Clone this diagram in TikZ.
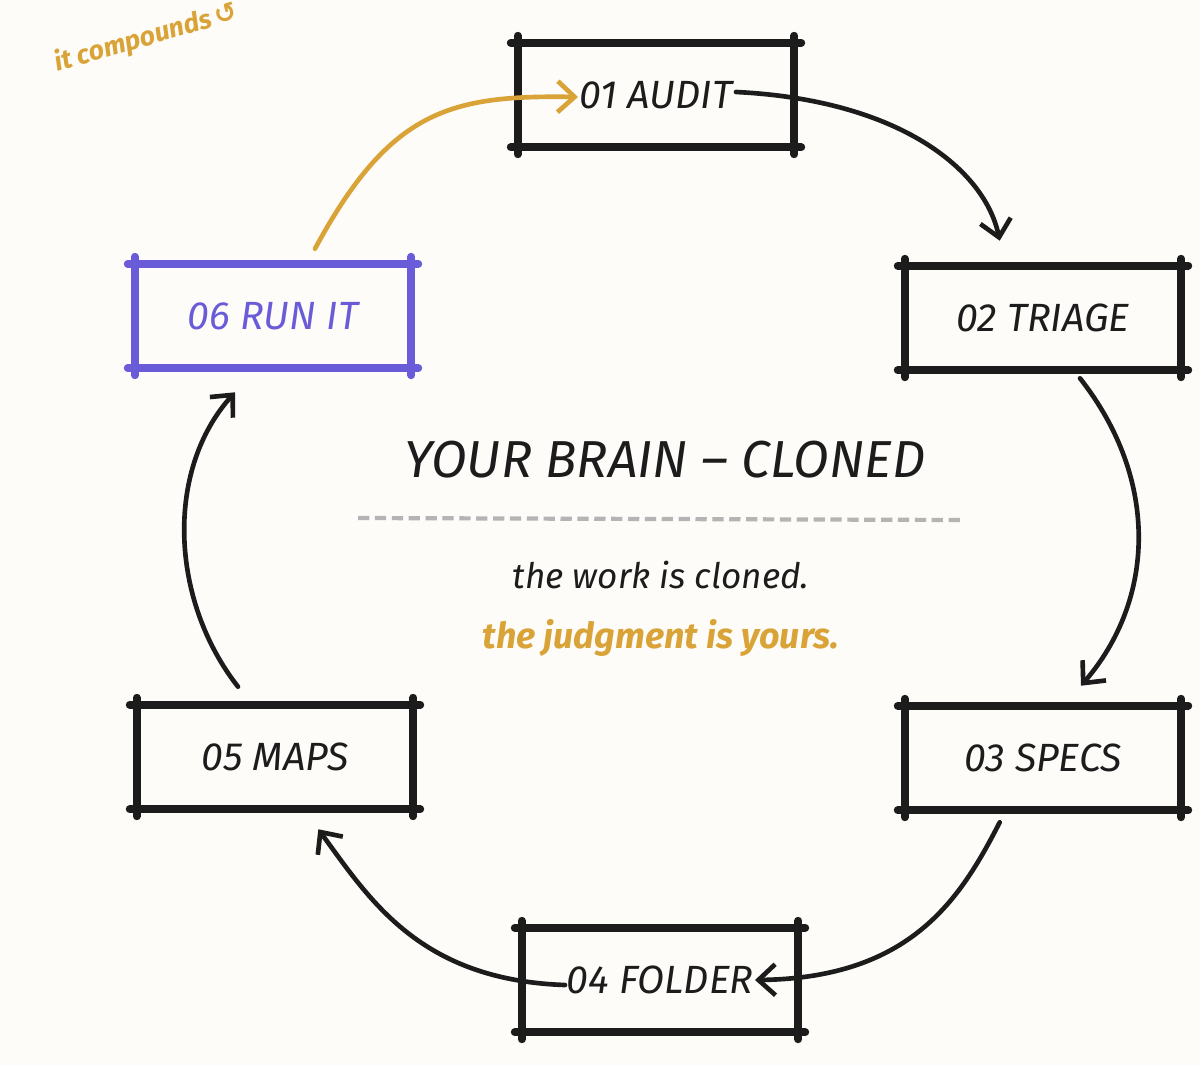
\documentclass[tikz,border=0pt]{standalone}
\usepackage{fontspec}
\setmainfont{Fira Sans}
\newfontfamily\symfont{DejaVu Sans}
\usetikzlibrary{arrows.meta, positioning, calc}

\definecolor{paper}{HTML}{FDFCF8}
\definecolor{ink}{HTML}{1C1C1C}
\definecolor{gold}{HTML}{D9A337}
\definecolor{runpurple}{HTML}{6A5BD8}
\definecolor{rule}{HTML}{B4B4B4}

\begin{document}
\begin{tikzpicture}[
    x=0.025cm, y=-0.025cm,
    stage/.style={minimum width=6.9cm, minimum height=2.6cm, inner sep=0pt, text=ink,
      font=\fontsize{28}{32}\selectfont\itshape},
    frame/.style={line width=5.5pt, line cap=round, shorten <=-5pt, shorten >=-5pt},
    flow/.style={draw=ink, line width=3.3pt, line cap=round,
      -{Straight Barb[length=12pt, width=22pt]}},
    loopback/.style={flow, draw=gold}
]
\fill[paper] (0,0) rectangle (1200,1065);
\useasboundingbox (0,0) rectangle (1200,1065);

% stages
\node[stage] (audit) at (656,95) {01 AUDIT};
\node[stage] (triage) at (1043,318) {02 TRIAGE};
\node[stage] (specs) at (1043,758) {03 SPECS};
\node[stage] (folder) at (660,980) {04 FOLDER};
\node[stage] (maps) at (275,757) {05 MAPS};
\node[stage, text=runpurple] (runit) at (273,316) {06 RUN IT};

% sketchy frames
\foreach \n/\c in {audit/ink, triage/ink, specs/ink, folder/ink, maps/ink, runit/runpurple} {
  \draw[frame, draw=\c] (\n.north west) -- (\n.north east);
  \draw[frame, draw=\c] (\n.north east) -- (\n.south east);
  \draw[frame, draw=\c] (\n.south east) -- (\n.south west);
  \draw[frame, draw=\c] (\n.south west) -- (\n.north west);
}

% centre
\node[font=\fontsize{37}{44}\selectfont\itshape, text=ink] (title) at (665,460) {YOUR BRAIN – CLONED};
\coordinate (ruleL) at (358,518);
\coordinate (ruleR) at (962,520);
\draw[rule, line width=3pt, dash pattern=on 8pt off 4pt] (ruleL) -- (ruleR);
\node[font=\fontsize{25}{30}\selectfont\itshape, text=ink] (work) at (661,575) {the work is cloned.};
\node[font=\fontsize{25.5}{30}\selectfont\itshape\bfseries, text=gold] (judge) at (661,638) {the judgment is yours.};
\node[font=\fontsize{19}{22}\selectfont\itshape\bfseries, text=gold, rotate=16] (note) at (146,38)
  {it compounds\,{\symfont ↺}};

% cycle
\draw[flow] ($(audit.center)+(80,-3)$) .. controls (900,100) and (985,170) .. ($(triage.north west)+(95,-25)$);
\draw[flow] ($(triage.south)+(37,8)$) .. controls (1160,480) and (1155,600) .. ($(specs.north)+(38,-20)$);
\draw[flow] ($(specs.south west)+(95,12)$) .. controls (960,900) and (910,978) .. ($(folder.center)+(95,0)$);
\draw[flow] ($(folder.center)+(-95,5)$) .. controls (420,980) and (370,900) .. ($(maps.south east)+(-95,20)$);
\draw[flow] ($(maps.north)+(-37,-18)$) .. controls (170,600) and (165,470) .. ($(runit.south)+(-38,24)$);
\draw[loopback] ($(runit.north)+(42,-15)$) .. controls (390,110) and (450,95) .. ($(audit.center)+(-78,2)$);
\end{tikzpicture}
\end{document}
